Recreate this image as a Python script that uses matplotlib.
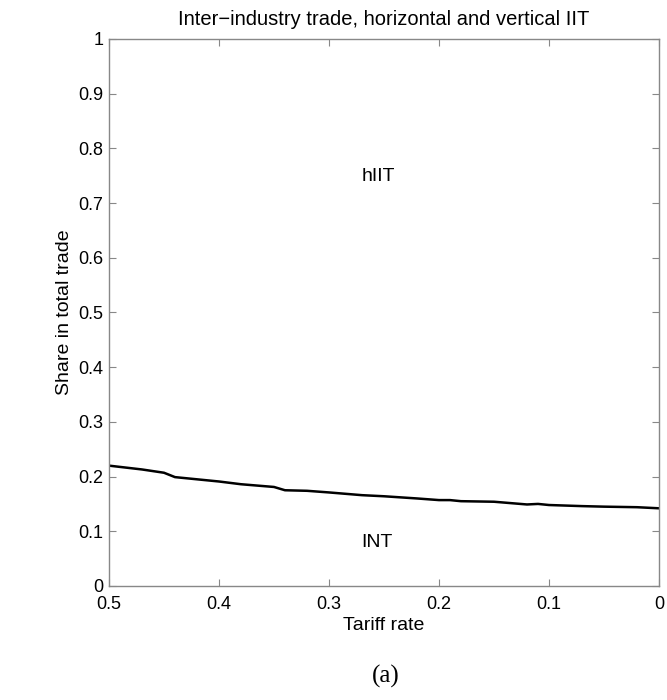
import matplotlib
matplotlib.use("Agg")
import matplotlib.pyplot as plt

plt.rcParams['font.family'] = ['Liberation Sans', 'DejaVu Sans']

# tariff rate (x axis runs from 0.5 down to 0) and INT share of total trade
tariff = [0.50, 0.47, 0.45, 0.44, 0.42, 0.40, 0.38, 0.35, 0.34, 0.32, 0.30,
          0.27, 0.25, 0.22, 0.20, 0.19, 0.18, 0.15, 0.12, 0.11, 0.10, 0.07,
          0.05, 0.02, 0.0]
int_share = [0.220, 0.213, 0.207, 0.199, 0.195, 0.191, 0.186, 0.181, 0.175,
             0.174, 0.171, 0.166, 0.164, 0.160, 0.157, 0.157, 0.155, 0.154,
             0.149, 0.150, 0.148, 0.146, 0.145, 0.144, 0.142]

x_ticks = [0.5, 0.4, 0.3, 0.2, 0.1, 0]
x_labels = ['0.5', '0.4', '0.3', '0.2', '0.1', '0']
y_ticks = [0, 0.1, 0.2, 0.3, 0.4, 0.5, 0.6, 0.7, 0.8, 0.9, 1]
y_labels = ['0', '0.1', '0.2', '0.3', '0.4', '0.5', '0.6', '0.7', '0.8', '0.9', '1']

fig = plt.figure(figsize=(6.67, 7.0), dpi=100)
ax = fig.add_axes([0.1634, 0.1629, 0.8246, 0.7814])

ax.plot(tariff, int_share, color='black', linewidth=1.8)

ax.set_xlim(0.5, 0)
ax.set_ylim(0, 1)
ax.set_xticks(x_ticks)
ax.set_xticklabels(x_labels)
ax.set_yticks(y_ticks)
ax.set_yticklabels(y_labels)
ax.tick_params(direction='in', length=5, width=0.8, color='#888888',
               top=True, right=True, labelsize=13, pad=4)
ax.tick_params(axis='x', pad=7)
for s in ax.spines.values():
    s.set_color('#888888')
    s.set_linewidth(1.0)

ax.text(0.255, 0.748, 'hIIT', ha='center', va='center', fontsize=14)
ax.text(0.256, 0.079, 'INT', ha='center', va='center', fontsize=14)

ax.set_title('Inter\u2212industry trade, horizontal and vertical IIT', fontsize=14.5, pad=10)
ax.set_xlabel('Tariff rate', fontsize=14, labelpad=3)
ax.set_ylabel('Share in total trade', fontsize=14, labelpad=4)

fig.text(0.579, 0.034, '(a)', ha='center', va='center', fontsize=18,
         family='Liberation Serif')

fig.savefig('out.png', dpi=100)
